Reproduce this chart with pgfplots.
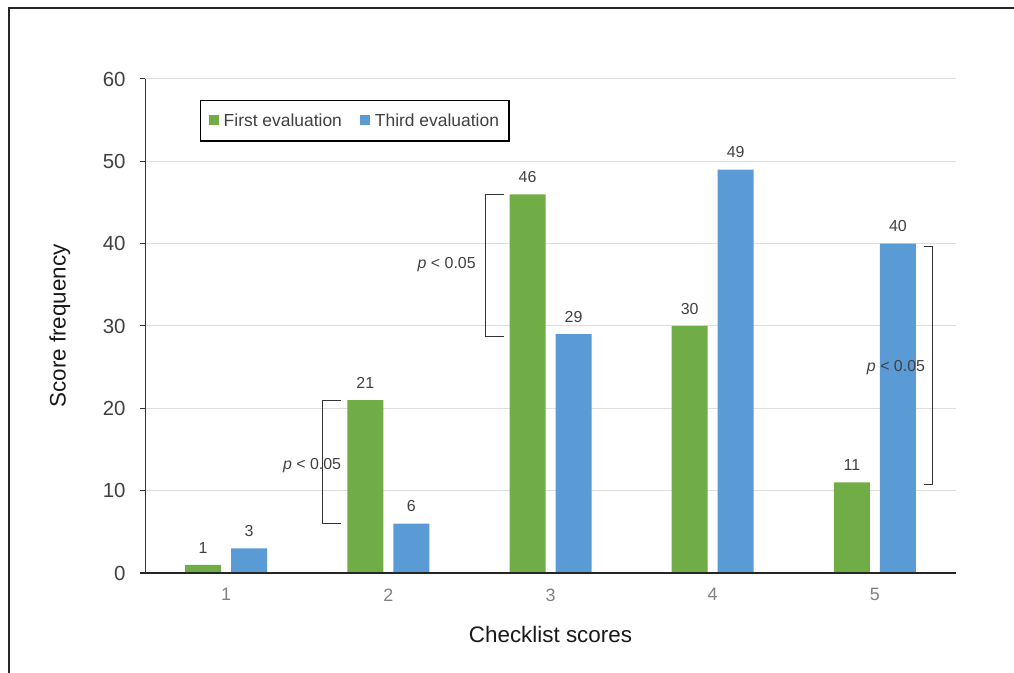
\documentclass[border=0pt]{standalone}
\usepackage{fontspec}
\setmainfont{Liberation Sans}
\usepackage{pgfplots}
\pgfplotsset{compat=1.18}
\definecolor{fgreen}{HTML}{70AD47}
\definecolor{tblue}{HTML}{5B9BD5}
\definecolor{txt}{HTML}{404040}
\begin{document}
\begin{tikzpicture}
\path[use as bounding box] (0bp,0bp) rectangle (1014bp,673bp);
% frame round the figure
\draw[line width=1.3bp, black!85] (9bp,0bp) -- (9bp,665bp) -- (1014bp,665bp);
\begin{axis}[
    at={(145bp,100bp)}, anchor=south west,
    scale only axis, width=811bp, height=494bp,
    ybar, bar width=36bp,
    xmin=0.5, xmax=5.5, ymin=0, ymax=60,
    xtick={1,2,3,4,5},
    ytick={0,10,...,60},
    axis x line*=bottom, axis y line*=left,
    x axis line style={draw=none},
    y axis line style={-, line width=1bp, black!80},
    major x tick style={draw=none},
    major y tick style={line width=1bp, black!80},
    tick align=outside, major tick length=5bp,
    ymajorgrids, grid style={line width=1bp, black!13},
    /pgf/number format/assume math mode=true,
    yticklabel style={font=\fontsize{20.5}{22}\selectfont, text=txt, xshift=-11bp},
    xticklabel style={font=\fontsize{18}{20}\selectfont, text=black!50, yshift=-7bp},
    ylabel={Score frequency},
    ylabel style={font=\fontsize{22.5}{25}\selectfont, text=black!90, anchor=center, at={(axis description cs:-0.105,0.5)}},
    xlabel={Checklist scores},
    xlabel style={font=\fontsize{22.5}{25}\selectfont, text=black!90, anchor=center, at={(axis description cs:0.5,-0.124)}},
    nodes near coords,
    nodes near coords style={font=\fontsize{16}{18}\selectfont, text=txt, yshift=8bp},
    legend columns=2,
    legend style={at={(0.068,0.957)}, anchor=north west, draw=black, line width=1.2bp,
        font=\fontsize{17.5}{19}\selectfont, text=txt, inner xsep=8bp, inner ysep=11bp,
        /tikz/every odd column/.append style={column sep=3bp},
        /tikz/every even column/.append style={column sep=16bp}},
    legend image code/.code={\fill[#1, draw=none] (0bp,-4bp) rectangle (10bp,6bp);},
]
\addplot[fill=fgreen, draw=none, bar shift=-23bp] coordinates {(1,1) (2,21) (3,46) (4,30) (5,11)};
\addlegendentry{First evaluation}
\addplot[fill=tblue, draw=none, bar shift=23bp] coordinates {(1,3) (2,6) (3,29) (4,49) (5,40)};
\addlegendentry{Third evaluation}
% significance brackets
\draw[line width=1bp, black!80] (axis cs:1.709,21) -- (axis cs:1.597,21) -- (axis cs:1.597,6) -- (axis cs:1.709,6);
\node[anchor=east, font=\fontsize{16}{18}\selectfont, text=txt, inner sep=0pt] at (axis cs:1.71,13.1) {\textit{p} < 0.05};
\draw[line width=1bp, black!80] (axis cs:2.713,46) -- (axis cs:2.602,46) -- (axis cs:2.602,28.7) -- (axis cs:2.713,28.7);
\node[anchor=east, font=\fontsize{16}{18}\selectfont, text=txt, inner sep=0pt] at (axis cs:2.54,37.4) {\textit{p} < 0.05};
\draw[line width=1bp, black!80] (axis cs:5.303,39.7) -- (axis cs:5.352,39.7) -- (axis cs:5.352,10.7) -- (axis cs:5.303,10.7);
\node[font=\fontsize{16}{18}\selectfont, text=txt, inner sep=0pt] at (axis cs:5.13,24.9) {\textit{p} < 0.05};
\end{axis}
\draw[line width=1.2bp, black!85] (140bp,100bp) -- (956bp,100bp);
\end{tikzpicture}
\end{document}
